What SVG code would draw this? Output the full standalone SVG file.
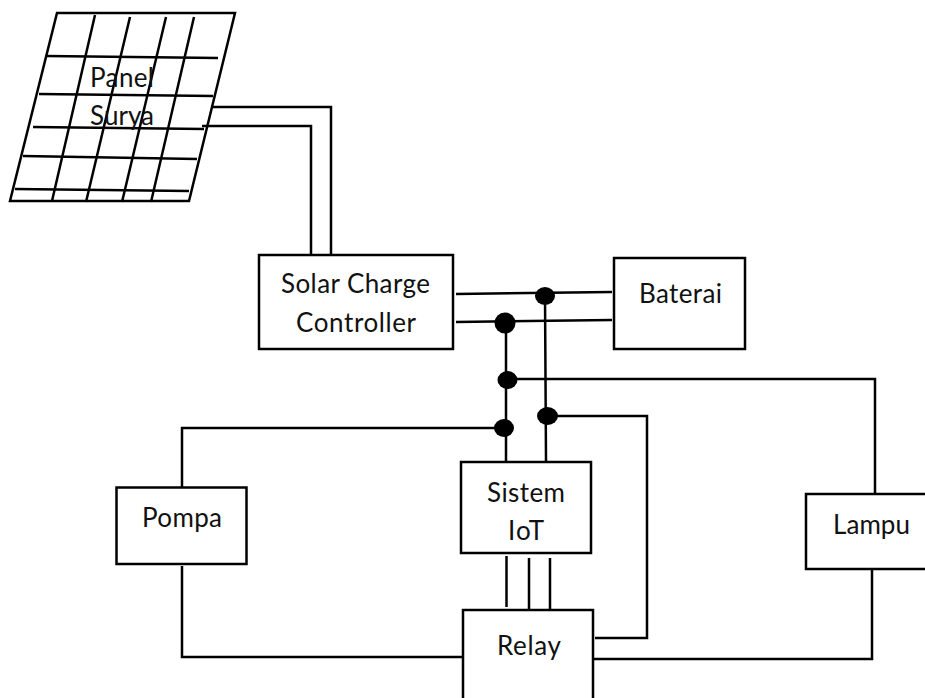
<svg xmlns="http://www.w3.org/2000/svg" width="925" height="698" viewBox="0 0 925 698">
<style>
.l{fill:none;stroke:#000;stroke-width:2.5}
.b{fill:#fff;stroke:#000;stroke-width:2.5}
.d{fill:#000;stroke:none}
text{font-family:"Lato","Open Sans",sans-serif;font-size:26px;fill:#111;text-anchor:middle}
</style>
<rect width="925" height="698" fill="#fff"/>
<g id="panel-surya">
<path class="l" d="M57 13H235L189 201H10Z"/>
<path class="l" d="M47 56L218 58M39 94L213 96M33 127L204 129M23 156L197 159M15 189L189 191"/>
<path class="l" d="M95 15L52 201M130 17L86 202M166 17L122 202M194 17L151 202"/>
<text x="122" y="87" textLength="64">Panel</text>
<text x="122" y="125" textLength="64">Surya</text>
</g>
<g id="connectors">
<path class="l" d="M213 107H331V254M202 126H311V254"/>
<path class="l" d="M456 294L612 292M456 322L612 320"/>
<path class="l" d="M545 296L546 461M506 323V461"/>
<path class="l" d="M507 379H875V494"/>
<path class="l" d="M547 416H647V638H595"/>
<path class="l" d="M505 428H182V488"/>
<path class="l" d="M182 566V657H462"/>
<path class="l" d="M506.500 556V607M529 558V609M550 558V609"/>
<path class="l" d="M594 659H872V570"/>
</g>
<g id="junctions">
<ellipse class="d" cx="545" cy="296" rx="10" ry="9"/>
<ellipse class="d" cx="505" cy="323" rx="10.500" ry="10.500"/>
<ellipse class="d" cx="507.500" cy="380" rx="10" ry="9"/>
<ellipse class="d" cx="547.500" cy="416" rx="10.500" ry="9"/>
<ellipse class="d" cx="504" cy="428" rx="10" ry="9"/>
</g>
<g id="solar-charge-controller">
<rect class="b" x="259" y="255" width="194" height="94"/>
<text x="355.500" y="293" textLength="149">Solar Charge</text>
<text x="356" y="332" textLength="120">Controller</text>
</g>
<g id="baterai">
<rect class="b" x="614" y="258" width="131" height="91"/>
<text x="680.500" y="303" textLength="83">Baterai</text>
</g>
<g id="sistem-iot">
<rect class="b" x="461" y="462" width="130" height="91"/>
<text x="526" y="502" textLength="78">Sistem</text>
<text x="526" y="540" textLength="36">IoT</text>
</g>
<g id="pompa">
<rect class="b" x="116.500" y="487.500" width="130" height="76.500"/>
<text x="182" y="527" textLength="80">Pompa</text>
</g>
<g id="lampu">
<rect class="b" x="806" y="494" width="130" height="75"/>
<text x="871.500" y="534" textLength="77">Lampu</text>
</g>
<g id="relay">
<rect class="b" x="463" y="610" width="130" height="92"/>
<text x="529" y="655" textLength="64">Relay</text>
</g>
</svg>
